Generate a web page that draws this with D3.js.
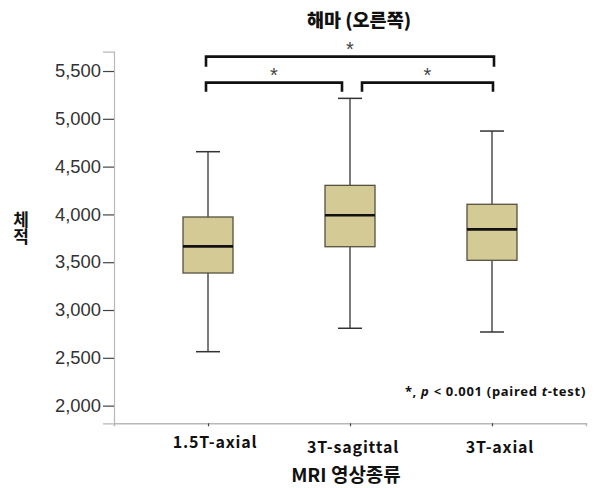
<!DOCTYPE html>
<html><head><meta charset="utf-8">
<script src="https://cdn.jsdelivr.net/npm/d3@7"></script>
<style>
body{margin:0;background:#fff;}
svg{display:block;}
</style></head>
<body>
<svg id="chart" width="594" height="488"></svg>
<script>
// ---- data ----
const categories = ["1.5T-axial", "3T-sagittal", "3T-axial"];
const whiskerLow  = [2564, 2809, 2770];
const q1          = [3387, 3662, 3520];
const median      = [3666, 3991, 3844];
const q3          = [3973, 4304, 4106];
const whiskerHigh = [4656, 5214, 4872];
const yTicks = [2000, 2500, 3000, 3500, 4000, 4500, 5000, 5500];
// significance brackets
const bracketFrom  = [0, 1, 0];
const bracketTo    = [1, 2, 2];
const bracketLevel = [5378, 5378, 5650];
const bracketDrop  = [5283, 5283, 5545];
const bracketLabel = ["*", "*", "*"];
const title = "해마 (오른쪽)";
const xTitle = "MRI 영상종류";
const yTitle = "체적";

const svg = d3.select("#chart");
const x = d3.scalePoint().domain(categories).range([114, 586]).padding(0.662);
const y = d3.scaleLinear().domain([1815, 5702]).range([423.3, 51.7]);

// axes
const yAxis = d3.axisLeft(y).tickValues(yTicks).tickSize(11).tickPadding(2)
  .tickFormat(d3.format(","));
const gy = svg.append("g").attr("transform", "translate(114,0)").call(yAxis);
gy.select(".domain").attr("stroke", "#b8b8b8").attr("stroke-width", 1.2);
gy.selectAll(".tick line").attr("stroke", "#444").attr("stroke-width", 1.2);
gy.selectAll(".tick text").attr("font-family", "Liberation Sans, Arial, sans-serif")
  .attr("font-size", 17.5).attr("fill", "#333").attr("textLength", 46)
  .attr("lengthAdjust", "spacingAndGlyphs");

const xAxis = d3.axisBottom(x).tickSize(3).tickFormat("");
const gx = svg.append("g").attr("transform", "translate(0,423.3)").call(xAxis);
gx.select(".domain").attr("stroke", "#b8b8b8").attr("stroke-width", 1.5);
gx.selectAll(".tick line").attr("stroke", "#444").attr("stroke-width", 1.2);

// x tick labels (staggered as in reference)
const labelDx = [7, 3, 8];
const labelDy = [448, 453, 453];
svg.selectAll(".xlab").data(categories).enter().append("text")
  .attr("class", "xlab")
  .attr("x", (d, i) => x(d) + labelDx[i]).attr("y", (d, i) => labelDy[i])
  .attr("text-anchor", "middle")
  .attr("font-family", "'Noto Sans CJK KR', 'Noto Sans', sans-serif")
  .attr("font-weight", "bold").attr("font-size", 16).attr("fill", "#111")
  .attr("letter-spacing", 0.8)
  .text(d => d);

// boxes
const bw = 50, cap = 24;
const g = svg.append("g");
categories.forEach((c, i) => {
  const cx = x(c);
  g.append("line").attr("x1", cx).attr("x2", cx).attr("y1", y(whiskerLow[i])).attr("y2", y(q1[i]))
    .attr("stroke", "#333").attr("stroke-width", 1.3);
  g.append("line").attr("x1", cx).attr("x2", cx).attr("y1", y(q3[i])).attr("y2", y(whiskerHigh[i]))
    .attr("stroke", "#333").attr("stroke-width", 1.3);
  [whiskerLow[i], whiskerHigh[i]].forEach(v => {
    g.append("line").attr("x1", cx - cap / 2).attr("x2", cx + cap / 2).attr("y1", y(v)).attr("y2", y(v))
      .attr("stroke", "#333").attr("stroke-width", 1.5);
  });
  g.append("rect").attr("x", cx - bw / 2).attr("width", bw)
    .attr("y", y(q3[i])).attr("height", y(q1[i]) - y(q3[i]))
    .attr("fill", "#d3ca95").attr("stroke", "#55503f").attr("stroke-width", 1.3);
  g.append("line").attr("x1", cx - bw / 2).attr("x2", cx + bw / 2).attr("y1", y(median[i])).attr("y2", y(median[i]))
    .attr("stroke", "#111").attr("stroke-width", 2.6);
});

// brackets
bracketFrom.forEach((f, k) => {
  const t = bracketTo[k];
  let x1 = x(categories[f]) - 2, x2 = x(categories[t]) + 2;
  if (k === 0) { x1 = x(categories[f]) - 2; x2 = x(categories[t]) - 8; }
  if (k === 1) { x1 = x(categories[f]) + 12; x2 = x(categories[t]) + 1; }
  const yl = y(bracketLevel[k]), yd = y(bracketDrop[k]);
  svg.append("path")
    .attr("d", `M${x1},${yd}V${yl}H${x2}V${yd}`)
    .attr("fill", "none").attr("stroke", "#111").attr("stroke-width", 2.6);
  svg.append("text").attr("x", (x1 + x2) / 2).attr("y", yl - 1)
    .attr("text-anchor", "middle").attr("font-family", "Liberation Sans, Arial, sans-serif")
    .attr("font-size", 20).attr("fill", "#444").text(bracketLabel[k]);
});

// title
svg.append("text").attr("x", 359).attr("y", 27).attr("text-anchor", "middle")
  .attr("font-family", "'Noto Sans CJK KR', sans-serif").attr("font-weight", 900)
  .attr("font-size", 18.5).attr("fill", "#111").text(title);

// x title
svg.append("text").attr("x", 346).attr("y", 482).attr("text-anchor", "middle")
  .attr("font-family", "'Noto Sans CJK KR', sans-serif").attr("font-weight", "bold")
  .attr("font-size", 19).attr("fill", "#111").text(xTitle);

// y title (vertical writing, single text)
svg.append("text").attr("x", 21).attr("y", 211)
  .style("writing-mode", "vertical-rl").style("text-orientation", "upright")
  .attr("font-family", "'Noto Sans CJK KR', sans-serif").attr("font-weight", "bold")
  .attr("font-size", 17).attr("fill", "#111").text(yTitle);

// note
const note = svg.append("text").attr("x", 586).attr("y", 396).attr("text-anchor", "end")
  .attr("font-family", "'Noto Sans', sans-serif").attr("font-weight", "bold")
  .attr("font-size", 13).attr("fill", "#111").attr("letter-spacing", 0.7);
note.append("tspan").text("*,  ");
note.append("tspan").attr("font-style", "italic").text("p");
note.append("tspan").text(" < 0.001  (paired ");
note.append("tspan").attr("font-style", "italic").text("t");
note.append("tspan").text("-test)");
</script>
</body></html>
